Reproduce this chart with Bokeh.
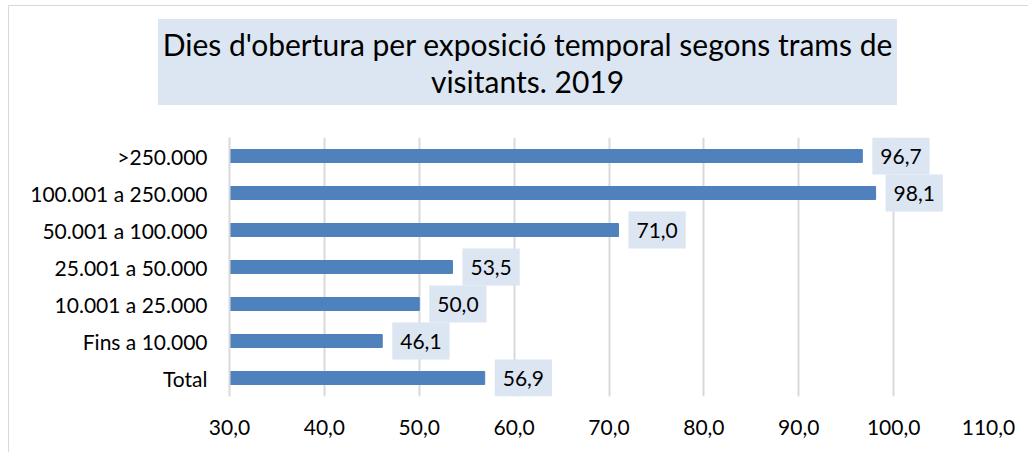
from bokeh.plotting import figure
from bokeh.models import ColumnDataSource, Range1d, Div, FixedTicker, CustomJSTickFormatter
from bokeh.layouts import column
from bokeh.core.properties import value
from bokeh.embed import file_html
from bokeh.resources import INLINE

categories = ["Total", "Fins a 10.000", "10.001 a 25.000", "25.001 a 50.000",
              "50.001 a 100.000", "100.001 a 250.000", ">250.000"]
values = [56.9, 46.1, 50.0, 53.5, 71.0, 98.1, 96.7]
tick_values = [30, 40, 50, 60, 70, 80, 90, 100, 110]
title_lines = ["Dies d'obertura per exposició temporal segons trams de", "visitants. 2019"]

FONT = "Lato"
labels = [f"{v:.1f}".replace(".", ",") for v in values]
src = ColumnDataSource(dict(cat=categories, val=values, lab=labels))

title_html = (
    '<div style="position:relative; left:144px; top:8px; width:739px; height:86px; '
    'box-sizing:border-box; padding-top:7px; background:#DCE6F2; color:#000; '
    "font-family:Lato, sans-serif; font-size:30px; line-height:37px; "
    'text-align:center; white-space:nowrap;">' + "<br>".join(title_lines) + "</div>"
)
title_div = Div(text=title_html, width=1016, height=121)

p = figure(width=1016, height=315, y_range=categories, x_range=Range1d(30, 110),
           output_backend="svg", toolbar_location=None,
           min_border_left=220, min_border_right=37, min_border_top=0, min_border_bottom=56)
p.outline_line_color = None

p.hbar(y="cat", left=30, right="val", height=0.35, source=src,
       fill_color="#4F81BD", line_color="#4F81BD")

p.text(x="val", y="cat", text="lab", source=src, x_offset=10,
       text_align="left", text_baseline="middle", text_font=value(FONT),
       text_font_size="21px", text_color="#000000",
       background_fill_color="#DCE6F2", padding=dict(left=8, right=8, top=11, bottom=11))

p.xaxis.ticker = FixedTicker(ticks=tick_values)
p.xaxis.formatter = CustomJSTickFormatter(code="return tick.toFixed(1).replace('.', ',');")
p.xaxis.axis_line_color = None
p.xaxis.major_tick_line_color = None
p.xaxis.minor_tick_line_color = None
p.xaxis.major_label_standoff = 17
p.xaxis.major_label_text_font = FONT
p.xaxis.major_label_text_font_size = "21px"
p.xaxis.major_label_text_color = "#000000"

p.yaxis.axis_line_color = "#D9D9D9"
p.yaxis.axis_line_width = 2
p.yaxis.major_tick_line_color = None
p.yaxis.minor_tick_line_color = None
p.yaxis.major_label_standoff = 16
p.yaxis.major_label_text_font = FONT
p.yaxis.major_label_text_font_size = "21px"
p.yaxis.major_label_text_color = "#000000"

p.xgrid.grid_line_color = "#D9D9D9"
p.xgrid.grid_line_width = 2
p.ygrid.grid_line_color = None

layout = column(title_div, p, spacing=0)
layout.styles = {"border-left": "1px solid #d9d9d9", "border-top": "1px solid #d9d9d9",
                 "margin-left": "8px", "margin-top": "5px"}

open("out.html", "w").write(file_html(layout, INLINE))
